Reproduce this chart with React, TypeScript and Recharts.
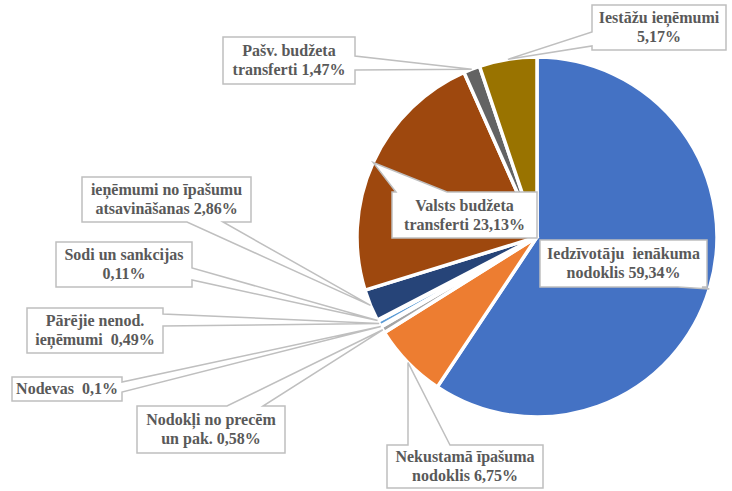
import React from 'react'
import { PieChart, Pie, Cell } from 'recharts'

// Revenue structure (share of total, %)
const categories = [
  'Iedzīvotāju ienākuma nodoklis',
  'Nekustamā īpašuma nodoklis',
  'Nodokļi no precēm un pak.',
  'Nodevas',
  'Pārējie nenod. ieņēmumi',
  'Sodi un sankcijas',
  'ieņēmumi no īpašumu atsavināšanas',
  'Valsts budžeta transferti',
  'Pašv. budžeta transferti',
  'Iestāžu ieņēmumi'
]
const shares = [59.34, 6.75, 0.58, 0.1, 0.49, 0.11, 2.86, 23.13, 1.47, 5.17]
const labelText = [
  ['Iedzīvotāju  ienākuma', 'nodoklis 59,34%'],
  ['Nekustamā īpašuma', 'nodoklis 6,75%'],
  ['Nodokļi no precēm', 'un pak. 0,58%'],
  ['Nodevas  0,1%'],
  ['Pārējie nenod.', 'ieņēmumi  0,49%'],
  ['Sodi un sankcijas', '0,11%'],
  ['ieņēmumi no īpašumu', 'atsavināšanas 2,86%'],
  ['Valsts budžeta', 'transferti 23,13%'],
  ['Pašv. budžeta', 'transferti 1,47%'],
  ['Iestāžu ieņēmumi', '5,17%']
]

const COLORS = [
  '#4472C4', '#ED7D31', '#A5A5A5', '#FFC000', '#5B9BD5',
  '#70AD47', '#264478', '#9E480E', '#636363', '#997300'
]

// callout boxes: x, y, w, h and where the pointer leaves the box
const BOXES = [
  { x: 540, y: 240, w: 167, h: 47, side: 'bottom', a: 678, b: 702 },
  { x: 387, y: 445, w: 156, h: 43, side: 'top', a: 408, b: 450 },
  { x: 137, y: 406, w: 148, h: 47, side: 'top', a: 227, b: 263 },
  { x: 12, y: 377, w: 110, h: 24, side: 'right', a: 382, b: 392 },
  { x: 27, y: 308, w: 136, h: 45, side: 'right', a: 314, b: 326 },
  { x: 56, y: 242, w: 136, h: 45, side: 'right', a: 268, b: 280 },
  { x: 82, y: 177, w: 169, h: 45, side: 'bottom', a: 187, b: 223 },
  { x: 392, y: 192, w: 145, h: 46, side: 'top', a: 396, b: 447 },
  { x: 223, y: 37, w: 132, h: 47, side: 'right', a: 56, b: 70 },
  { x: 592, y: 5, w: 134, h: 45, side: 'left', a: 32, b: 46 }
]

const data = categories.map((name, i) => ({ name, value: shares[i] }))

const RADIAN = Math.PI / 180

function calloutPath(bx: any, tx: number, ty: number) {
  const { x, y, w, h, side, a, b } = bx
  const p: number[][] = [[x, y]]
  if (side === 'top') p.push([a, y], [tx, ty], [b, y])
  p.push([x + w, y])
  if (side === 'right') p.push([x + w, a], [tx, ty], [x + w, b])
  p.push([x + w, y + h])
  if (side === 'bottom') p.push([b, y + h], [tx, ty], [a, y + h])
  p.push([x, y + h])
  if (side === 'left') p.push([x, b], [tx, ty], [x, a])
  return 'M' + p.map((q) => q.join(',')).join('L') + 'Z'
}

// label = callout box whose pointer ends on the slice's outer edge
const renderCallout = (props: any) => {
  const { cx, cy, midAngle, outerRadius, index } = props
  const tx = cx + outerRadius * Math.cos(-midAngle * RADIAN)
  const ty = cy + outerRadius * Math.sin(-midAngle * RADIAN)
  const bx = BOXES[index]
  const lines = labelText[index]
  const lh = 19
  const midY = bx.y + bx.h / 2
  const firstY = midY - ((lines.length - 1) * lh) / 2 + 5
  return (
    <g key={`callout-${index}`}>
      <path d={calloutPath(bx, tx, ty)} fill="#fff" stroke="#BFBFBF" strokeWidth={1.5} />
      <text
        x={bx.x + bx.w / 2}
        y={firstY}
        textAnchor="middle"
        fill="#595959"
        fontFamily="Liberation Serif"
        fontWeight="bold"
        fontSize={16}
        style={{ whiteSpace: 'pre' }}
      >
        {lines.map((t: string, i: number) => (
          <tspan key={i} x={bx.x + bx.w / 2} y={firstY + i * lh}>
            {t}
          </tspan>
        ))}
      </text>
    </g>
  )
}

export default function App() {
  return (
    <div style={{ position: 'absolute', left: 0, top: 0, width: 732, height: 491, background: '#fff' }}>
      <PieChart width={732} height={491} margin={{ top: 0, right: 0, bottom: 0, left: 0 }}>
        <Pie
          data={data}
          dataKey="value"
          nameKey="name"
          cx={537}
          cy={237}
          outerRadius={180}
          startAngle={90}
          endAngle={-270}
          stroke="#fff"
          strokeWidth={3.5}
          label={renderCallout}
          labelLine={false}
          isAnimationActive={false}
        >
          {data.map((entry, index) => (
            <Cell key={`cell-${index}`} fill={COLORS[index]} />
          ))}
        </Pie>
      </PieChart>
    </div>
  )
}
